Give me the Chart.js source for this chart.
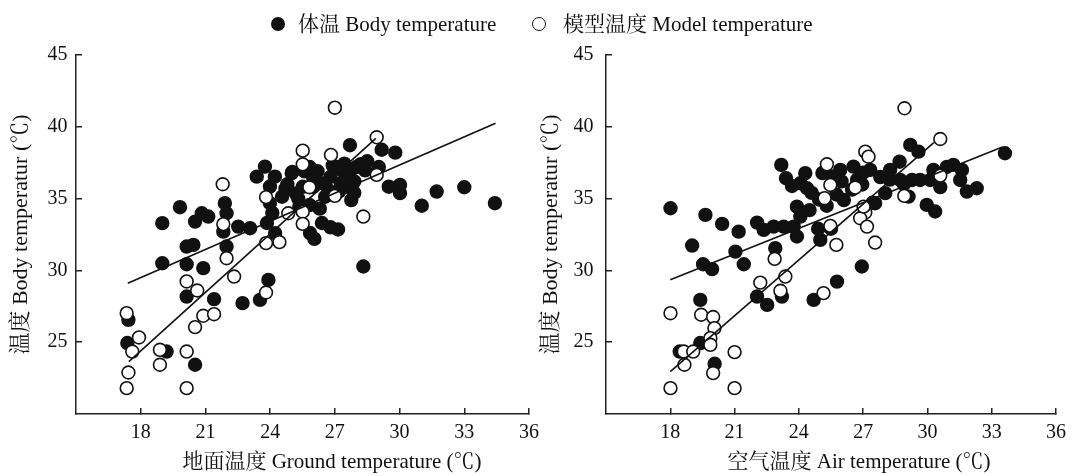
<!DOCTYPE html>
<html>
<head>
<meta charset="utf-8">
<script src="https://cdn.jsdelivr.net/npm/chart.js@4.4.1/dist/chart.umd.min.js"></script>
<style>
  html, body { margin: 0; padding: 0; background: #fff; }
  #wrap { position: relative; width: 1073px; height: 476px; overflow: hidden; }
  #left { position: absolute; left: 0; top: 0; }
  #right { position: absolute; left: 536px; top: 0; }
  .leg { position: absolute; top: 0; line-height: 48px; font-size: 21px; color: #111;
         font-family: 'Liberation Serif', 'Noto Serif CJK SC', 'Noto Sans CJK SC', serif; white-space: nowrap; }
  .dot { position: absolute; top: 17px; width: 14px; height: 14px; border-radius: 50%; box-sizing: border-box; }
  .dot.filled { background: #111; }
  .dot.open { background: #fff; border: 1.6px solid #111; }
</style>
</head>
<body>
<div id="wrap">
  <canvas id="left" width="545" height="476"></canvas>
  <canvas id="right" width="537" height="476"></canvas>
  <span class="dot filled" style="left:271px"></span>
  <span class="leg" id="legBody" style="left:298px"></span>
  <span class="dot open" style="left:532px"></span>
  <span class="leg" id="legModel" style="left:563px"></span>
</div>
<script>
// 字体
const FONT = "'Liberation Serif', 'Noto Serif CJK SC', 'Noto Sans CJK SC', serif";

// 图例与坐标轴文字
const seriesLabels = ['体温 Body temperature', '模型温度 Model temperature'];
const yTitle = '温度 Body temperatur (℃)';
const xTitles = ['地面温度 Ground temperature (℃)', '空气温度 Air temperature (℃)'];
const xTickValues = [18, 21, 24, 27, 30, 33, 36];
const yTickValues = [25, 30, 35, 40, 45];

// 地面温度 - 体温
const groundBody = [
    [17.43, 26.56], [17.38, 24.94], [19.2, 24.35], [20.52, 23.43],
    [19.0, 33.29], [19.82, 34.4], [20.52, 33.4], [20.83, 33.98], [21.13, 33.75],
    [21.9, 34.68], [21.98, 33.98], [21.83, 32.7], [22.52, 33.05], [23.07, 32.94],
    [21.98, 31.66], [20.13, 31.66], [20.44, 31.78], [19.0, 30.5], [20.13, 30.43], [20.9, 30.16],
    [20.13, 28.18], [21.4, 28.0], [22.72, 27.72], [23.53, 27.95], [23.92, 29.34],
    [23.38, 36.53], [23.76, 37.23], [24.22, 36.53], [23.99, 35.84], [23.99, 34.68], [23.85, 33.3], [24.1, 34.0],
    [24.23, 32.59], [24.55, 35.13], [24.71, 35.7], [25.03, 36.86], [25.19, 35.36], [25.35, 34.43],
    [25.51, 35.82], [25.83, 37.2], [25.99, 35.82], [25.83, 34.55], [25.85, 32.6], [26.05, 32.2],
    [26.4, 33.3], [26.8, 33.0], [27.15, 32.85],
    [26.55, 35.13], [26.8, 36.51], [27.04, 37.2], [27.28, 36.05], [27.44, 37.43], [27.7, 38.72],
    [27.68, 36.74], [27.76, 35.7], [27.76, 34.9], [28.0, 37.2], [28.4, 36.97], [28.32, 30.27],
    [29.04, 37.2], [29.17, 38.4], [29.8, 38.2], [29.5, 35.83], [30.02, 35.95], [30.02, 35.38],
    [31.03, 34.5], [31.72, 35.49], [33.0, 35.79], [34.42, 34.68], [26.47, 36.05], [25.0, 36.77],
    [26.2, 36.9], [26.9, 37.3], [27.3, 37.0], [27.5, 36.4], [27.9, 36.2], [28.2, 37.4], [26.0, 36.4],
    [25.6, 36.9], [26.7, 35.6], [27.2, 35.5], [28.5, 37.6], [24.8, 36.0], [25.3, 35.0], [26.3, 34.3], [27.9, 35.4]
];

// 地面温度 - 模型温度
const groundModel = [
    [17.35, 27.02], [17.92, 25.33], [17.61, 24.35], [17.43, 22.89], [17.35, 21.8],
    [18.89, 24.47], [18.89, 23.43], [20.13, 24.35], [20.13, 21.8], [20.13, 29.23],
    [20.62, 28.6], [20.52, 26.05], [20.9, 26.84], [21.4, 26.95], [21.8, 36.0],
    [21.83, 33.22], [21.98, 30.85], [22.33, 29.57], [23.81, 28.46], [23.81, 31.9],
    [24.43, 31.97], [23.81, 35.1], [27.0, 41.33], [28.94, 39.27], [25.51, 38.34],
    [25.51, 37.39], [26.82, 38.04], [25.82, 35.79], [27.0, 35.19], [28.94, 36.65],
    [28.32, 33.75], [25.51, 34.09], [25.51, 33.24], [24.84, 33.98]
];

const groundBodyFit = [[17.4, 29.1], [34.45, 40.25]];
const groundModelFit = [[17.45, 23.65], [28.9, 39.2]];

// 空气温度 - 体温
const airBody = [
    [18.01, 34.33], [19.64, 33.87], [20.42, 33.24], [21.19, 32.7], [19.02, 31.73],
    [19.53, 30.43], [19.95, 30.09], [21.04, 31.31], [21.43, 30.43], [22.05, 33.33],
    [22.36, 32.82], [22.82, 33.05], [23.29, 33.05], [23.76, 33.05], [23.91, 32.36],
    [22.9, 31.55], [23.18, 37.35], [23.4, 36.42], [23.68, 35.88], [24.07, 36.07],
    [24.3, 36.77], [24.38, 35.72], [23.91, 34.44], [24.07, 33.75], [19.4, 27.95],
    [19.4, 24.94], [18.44, 24.35], [20.07, 23.5], [22.05, 28.18], [22.52, 27.6],
    [23.21, 28.18], [24.69, 27.95], [25.0, 32.13], [25.78, 29.22],
    [29.2, 38.74], [29.58, 38.27], [33.62, 38.16], [28.7, 37.57], [28.26, 37.0],
    [27.33, 37.0], [26.55, 37.23], [25.93, 37.0], [31.21, 37.35], [31.61, 37.0],
    [31.53, 36.3], [32.3, 35.72], [31.84, 35.49], [30.28, 37.0], [30.13, 36.3],
    [29.66, 36.3], [29.28, 36.3], [29.97, 34.56], [30.36, 34.1], [29.12, 35.14],
    [28.73, 36.3], [28.03, 35.38], [27.56, 34.68], [26.94, 30.27],
    [24.9, 32.9], [25.5, 32.9], [24.94, 34.94], [25.1, 36.78], [25.59, 36.55],
    [25.75, 35.29], [25.99, 36.2], [26.48, 35.63], [26.72, 36.32], [26.96, 35.98],
    [27.44, 34.71], [28.25, 36.32], [24.6, 35.4], [25.3, 34.5], [26.1, 34.9],
    [27.0, 36.8], [27.8, 36.5], [28.9, 36.0], [30.6, 35.8], [30.9, 37.2], [24.5, 34.2]
];

// 空气温度 - 模型温度
const airModel = [
    [18.01, 27.02], [18.01, 21.8], [18.63, 24.35], [18.66, 23.43], [19.07, 24.35],
    [19.44, 26.91], [20.0, 26.75], [20.06, 25.98], [19.87, 25.28], [19.87, 24.82],
    [20.0, 22.85], [21.0, 24.31], [21.0, 21.8], [22.2, 29.15], [22.87, 30.8],
    [23.14, 28.58], [23.37, 29.57], [25.15, 28.42], [25.47, 33.1], [25.2, 35.03],
    [25.47, 35.95], [25.31, 37.39], [25.75, 31.78], [28.93, 41.29], [30.6, 39.15],
    [27.1, 38.27], [27.25, 37.92], [30.6, 36.6], [28.92, 35.19], [26.63, 35.77],
    [27.1, 34.03], [26.86, 33.63], [27.18, 33.05], [27.02, 34.44], [27.56, 31.94]
];

const airBodyFit = [[18.0, 29.35], [33.5, 38.6]];
const airModelFit = [[18.0, 22.95], [30.3, 38.9]];

document.getElementById('legBody').textContent = seriesLabels[0];
document.getElementById('legModel').textContent = seriesLabels[1];

const toXY = arr => arr.map(p => ({ x: p[0], y: p[1] }));

// x 轴标题（略偏右，与原图一致）
const xTitlePlugin = {
    id: 'xTitle',
    afterDraw(chart, args, opts) {
        const { ctx } = chart;
        ctx.save();
        ctx.font = '21px ' + FONT;
        ctx.fillStyle = '#111';
        ctx.textAlign = 'center';
        ctx.textBaseline = 'middle';
        ctx.fillText(opts.text, opts.x, opts.y);
        ctx.restore();
    }
};

function makePanel(canvasId, body, model, bodyFit, modelFit, xTitle, s) {
    new Chart(document.getElementById(canvasId), {
        type: 'scatter',
        data: {
            datasets: [
                { label: 'fitBody', data: toXY(bodyFit), showLine: true, pointRadius: 0,
                  borderColor: '#111', borderWidth: 1.6, order: 0 },
                { label: 'fitModel', data: toXY(modelFit), showLine: true, pointRadius: 0,
                  borderColor: '#111', borderWidth: 1.6, order: 1 },
                { label: seriesLabels[1], data: toXY(model), pointRadius: 6.4, pointBorderWidth: 1.6,
                  backgroundColor: '#fff', borderColor: '#111', order: 2 },
                { label: seriesLabels[0], data: toXY(body), pointRadius: 6.4, pointBorderWidth: 1.6,
                  backgroundColor: '#111', borderColor: '#111', order: 3 }
            ]
        },
        options: {
            responsive: false,
            animation: false,
            events: [],
            layout: { padding: { top: 55, right: s.padRight, left: 0, bottom: 0 } },
            plugins: {
                legend: { display: false },
                tooltip: { enabled: false },
                xTitle: { text: xTitle, x: s.titleX, y: 462 }
            },
            scales: {
                x: {
                    type: 'linear', min: 15, max: 36,
                    afterBuildTicks(scale) { scale.ticks = xTickValues.map(v => ({ value: v })); },
                    afterFit(scale) { scale.height = 62; scale.paddingLeft = 0; scale.paddingRight = 0; },
                    ticks: { padding: 13, color: '#111', maxRotation: 0, autoSkip: false,
                             font: { family: FONT, size: 20 } },
                    grid: { drawOnChartArea: false, drawTicks: true, tickLength: -6, color: '#222', lineWidth: 1.5 },
                    border: { color: '#222', width: 1.5 }
                },
                y: {
                    type: 'linear', min: 20, max: 45,
                    afterBuildTicks(scale) { scale.ticks = yTickValues.map(v => ({ value: v })); },
                    afterFit(scale) { scale.width = s.yWidth; scale.paddingTop = 0; scale.paddingBottom = 0; },
                    ticks: { padding: s.yPad, color: '#111', font: { family: FONT, size: 20 } },
                    grid: { drawOnChartArea: false, drawTicks: true, tickLength: -6, color: '#222', lineWidth: 1.5 },
                    border: { color: '#222', width: 1.5 },
                    title: { display: true, text: yTitle, color: '#111',
                             font: { family: FONT, size: 22 }, padding: { top: s.yTitlePad, bottom: 0 } }
                }
            }
        },
        plugins: [xTitlePlugin]
    });
}

makePanel('left', groundBody, groundModel, groundBodyFit, groundModelFit, xTitles[0],
    { padRight: 16, yWidth: 76, yPad: 14.4, yTitlePad: 8, titleX: 332 });
makePanel('right', airBody, airModel, airBodyFit, airModelFit, xTitles[1],
    { padRight: 17, yWidth: 70, yPad: 18.4, yTitlePad: 2, titleX: 323 });
</script>
</body>
</html>
